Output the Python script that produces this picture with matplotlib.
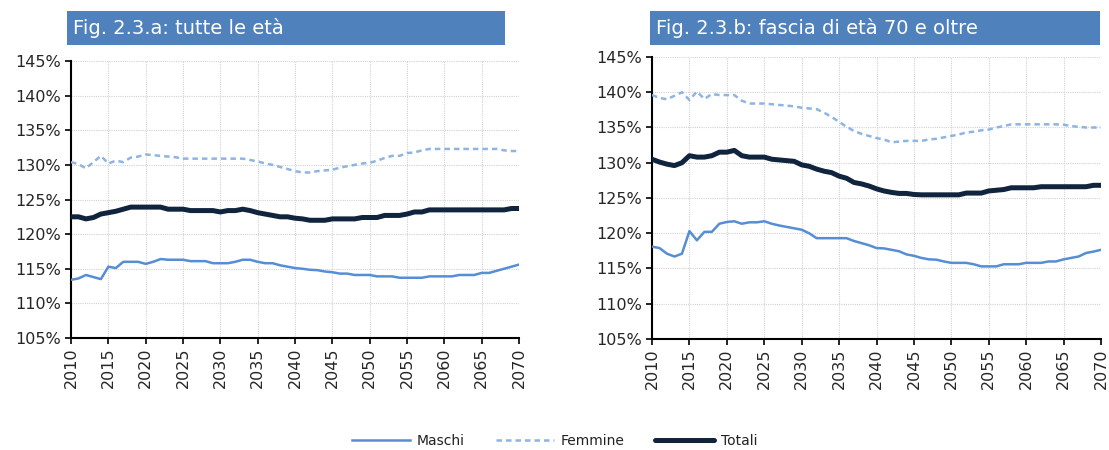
import matplotlib
matplotlib.use("Agg")
import matplotlib.pyplot as plt
from matplotlib.lines import Line2D
import numpy as np

years = list(range(2010, 2071))

a_maschi = [113.4, 113.6, 114.1, 113.8, 113.5, 115.3, 115.1, 116.0, 116.0, 116.0,
            115.7, 116.0, 116.4, 116.3, 116.3, 116.3, 116.1, 116.1, 116.1, 115.8,
            115.8, 115.8, 116.0, 116.3, 116.3, 116.0, 115.8, 115.8, 115.5, 115.3,
            115.1, 115.0, 114.85, 114.8, 114.6, 114.5, 114.3, 114.3, 114.1, 114.1,
            114.1, 113.9, 113.9, 113.9, 113.7, 113.7, 113.7, 113.7, 113.9, 113.9,
            113.9, 113.9, 114.1, 114.1, 114.1, 114.4, 114.4, 114.7, 115.0, 115.3,
            115.6]
a_femmine = [130.4, 130.1, 129.5, 130.4, 131.3, 130.2, 130.6, 130.4, 131.05, 131.2,
             131.5, 131.4, 131.3, 131.2, 131.1, 130.9, 130.9, 130.9, 130.9, 130.9,
             130.9, 130.9, 130.9, 130.9, 130.7, 130.5, 130.2, 130.0, 129.7, 129.4,
             129.1, 128.9, 128.9, 129.1, 129.2, 129.3, 129.6, 129.8, 130.0, 130.2,
             130.3, 130.6, 131.0, 131.3, 131.3, 131.7, 131.8, 132.1, 132.3, 132.3,
             132.3, 132.3, 132.3, 132.3, 132.3, 132.3, 132.3, 132.3, 132.1, 132.0,
             132.0]
a_totali = [122.5, 122.5, 122.2, 122.4, 122.9, 123.1, 123.3, 123.6, 123.9, 123.9,
            123.9, 123.9, 123.9, 123.6, 123.6, 123.6, 123.4, 123.4, 123.4, 123.4,
            123.2, 123.4, 123.4, 123.6, 123.4, 123.1, 122.9, 122.7, 122.5, 122.5,
            122.3, 122.2, 122.0, 122.0, 122.0, 122.2, 122.2, 122.2, 122.2, 122.4,
            122.4, 122.4, 122.7, 122.7, 122.7, 122.9, 123.2, 123.2, 123.5, 123.5,
            123.5, 123.5, 123.5, 123.5, 123.5, 123.5, 123.5, 123.5, 123.5, 123.7,
            123.7]

b_maschi = [118.1, 117.9, 117.1, 116.7, 117.1, 120.3, 119.0, 120.2, 120.2, 121.35,
            121.6, 121.7, 121.35, 121.55, 121.55, 121.7, 121.35, 121.1, 120.9, 120.7,
            120.5, 120.0, 119.3, 119.3, 119.3, 119.3, 119.3, 118.9, 118.6, 118.3,
            117.9, 117.85, 117.65, 117.45, 117.0, 116.8, 116.5, 116.3, 116.25, 116.0,
            115.8, 115.8, 115.8, 115.6, 115.3, 115.3, 115.3, 115.6, 115.6, 115.6,
            115.8, 115.8, 115.8, 116.0, 116.0, 116.3, 116.5, 116.7, 117.2, 117.4,
            117.65]
b_femmine = [139.6, 139.2, 139.0, 139.5, 140.0, 138.9, 140.1, 139.05, 139.75, 139.6,
             139.6, 139.6, 138.8, 138.4, 138.4, 138.4, 138.3, 138.2, 138.1, 138.0,
             137.8, 137.7, 137.6, 137.1, 136.5, 135.8, 135.1, 134.5, 134.1, 133.8,
             133.5, 133.3, 132.9, 133.0, 133.1, 133.1, 133.1, 133.3, 133.4, 133.6,
             133.8, 134.0, 134.3, 134.4, 134.6, 134.7, 135.0, 135.2, 135.45, 135.45,
             135.45, 135.45, 135.45, 135.45, 135.45, 135.4, 135.2, 135.1, 135.0, 135.0,
             135.0]
b_totali = [130.5, 130.1, 129.8, 129.6, 130.0, 131.0, 130.8, 130.8, 131.0, 131.5,
            131.5, 131.75, 131.0, 130.8, 130.8, 130.8, 130.5, 130.4, 130.3, 130.2,
            129.7, 129.5, 129.1, 128.8, 128.6, 128.1, 127.8, 127.2, 127.0, 126.7,
            126.3, 126.0, 125.8, 125.65, 125.65, 125.5, 125.45, 125.45, 125.45, 125.45,
            125.45, 125.45, 125.7, 125.7, 125.7, 126.0, 126.1, 126.2, 126.45, 126.45,
            126.45, 126.45, 126.6, 126.6, 126.6, 126.6, 126.6, 126.6, 126.6, 126.8,
            126.8]

titles = ["Fig. 2.3.a: tutte le età", "Fig. 2.3.b: fascia di età 70 e oltre"]
series_names = ["Maschi", "Femmine", "Totali"]
x_ticks = list(range(2010, 2071, 5))
y_ticks = list(range(105, 146, 5))

c_m = "#558ED5"
c_f = "#8DB4E2"
c_t = "#10243E"
c_box = "#4F81BD"

plt.rcParams['font.family'] = ['DejaVu Sans']

fig = plt.figure(figsize=(11.09, 4.5), dpi=100)
ax_a = fig.add_axes([71/1109, 112/450, 448/1109, 277/450])
ax_b = fig.add_axes([652/1109, 111/450, 449/1109, 282/450])

for ax, m, f, t, title, bx in [(ax_a, a_maschi, a_femmine, a_totali, titles[0], (67, 505)),
                               (ax_b, b_maschi, b_femmine, b_totali, titles[1], (650, 1100))]:
    ax.plot(years, m, color=c_m, lw=1.8, solid_joinstyle='round', zorder=3)
    ax.plot(years, f, color=c_f, lw=1.8, ls=(0, (2.2, 1.6)), zorder=3)
    ax.plot(years, t, color=c_t, lw=3.6, solid_joinstyle='round', solid_capstyle='round', zorder=4)
    ax.set_xlim(2010, 2070)
    ax.set_ylim(105, 145)
    ax.set_xticks(x_ticks)
    ax.set_xticklabels([str(v) for v in x_ticks], rotation=90, fontsize=11.5, color='#262626')
    ax.set_yticks(y_ticks)
    ax.set_yticklabels([f"{v}%" for v in y_ticks], fontsize=11.5, color='#262626')
    ax.grid(True, color='#D3D3D3', ls=(0, (1, 1)), lw=0.8)
    ax.set_axisbelow(True)
    for s in ['top', 'right']:
        ax.spines[s].set_visible(False)
    for s in ['left', 'bottom']:
        ax.spines[s].set_linewidth(1.5)
        ax.spines[s].set_color('black')
    ax.tick_params(axis='both', direction='out', length=4, width=1.2, pad=3)
    x0, x1 = bx
    fig.patches.append(plt.Rectangle((x0/1109, 1 - 45/450), (x1 - x0)/1109, 34/450,
                                     transform=fig.transFigure, facecolor=c_box,
                                     edgecolor='none', zorder=1))
    fig.text((x0 + 6)/1109, 1 - 28/450, title, color='white', fontsize=14,
             va='center', ha='left')

handles = [Line2D([], [], color=c_m, lw=1.8),
           Line2D([], [], color=c_f, lw=1.8, ls=(0, (2.2, 1.6))),
           Line2D([], [], color=c_t, lw=3.6, solid_capstyle='round')]
fig.legend(handles, series_names, loc='center', bbox_to_anchor=(0.5, 1 - 441/450),
           ncol=3, frameon=False, fontsize=10, handlelength=4.2, columnspacing=2.2,
           handletextpad=0.5, labelcolor='#222222')

fig.savefig("out.png", dpi=100)
